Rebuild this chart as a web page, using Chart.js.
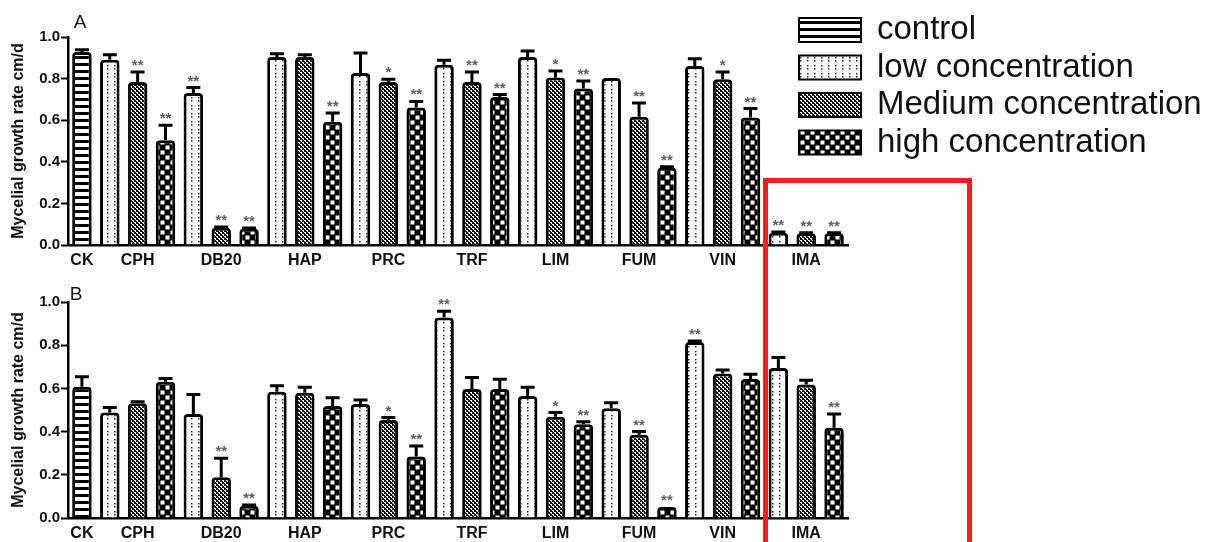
<!DOCTYPE html>
<html>
<head>
<meta charset="utf-8">
<script src="https://cdn.jsdelivr.net/npm/chart.js@4.4.1/dist/chart.umd.min.js"></script>
<style>
  html, body { margin:0; padding:0; background:#fff; }
  body { width:1219px; height:542px; overflow:hidden; position:relative; font-family:"Liberation Sans", Arial, sans-serif; }
  .panel { position:absolute; left:0; width:1219px; }
  #redbox { position:absolute; left:763px; top:178px; width:209px; height:420px; border:5px solid #ff1a1a; box-sizing:border-box; pointer-events:none; }
</style>
</head>
<body>
<div class="panel" style="top:0;height:270px"><canvas id="cA" width="1219" height="270"></canvas></div>
<div class="panel" style="top:270px;height:272px"><canvas id="cB" width="1219" height="272"></canvas></div>
<div id="redbox"></div>
<script>
// ---------- data ----------
const groups = ['CK','CPH','DB20','HAP','PRC','TRF','LIM','FUM','VIN','IMA'];
const seriesNames = ['control','low concentration','Medium concentration','high concentration'];
const yTicks = [0.0, 0.2, 0.4, 0.6, 0.8, 1.0];
const yTitle = 'Mycelial growth rate cm/d';

// Panel A (treatments: CPH, DB20, HAP, PRC, TRF, LIM, FUM, VIN, IMA)
const A_control     = [0.928];
const A_control_err = [0.011];
const A_control_sig = [''];
const A_low      = [0.891, 0.731, 0.904, 0.827, 0.867, 0.904, 0.803, 0.861, 0.059];
const A_low_err  = [0.024, 0.026, 0.016, 0.096, 0.021, 0.029, 0.000, 0.035, 0.004];
const A_low_sig  = ['', '**', '', '', '', '', '', '', '**'];
const A_med      = [0.784, 0.083, 0.904, 0.784, 0.784, 0.805, 0.616, 0.797, 0.056];
const A_med_err  = [0.048, 0.004, 0.011, 0.013, 0.048, 0.032, 0.067, 0.035, 0.003];
const A_med_sig  = ['**', '**', '', '*', '**', '*', '**', '*', '**'];
const A_high     = [0.504, 0.078, 0.592, 0.661, 0.712, 0.752, 0.371, 0.613, 0.056];
const A_high_err = [0.072, 0.004, 0.043, 0.029, 0.011, 0.037, 0.005, 0.043, 0.003];
const A_high_sig = ['**', '**', '**', '**', '**', '**', '**', '**', '**'];

// Panel B
const B_control     = [0.608];
const B_control_err = [0.046];
const B_control_sig = [''];
const B_low      = [0.489, 0.482, 0.585, 0.528, 0.928, 0.565, 0.508, 0.815, 0.695];
const B_low_err  = [0.022, 0.090, 0.027, 0.018, 0.029, 0.040, 0.026, 0.005, 0.048];
const B_low_sig  = ['', '', '', '', '**', '', '', '**', ''];
const B_med      = [0.531, 0.189, 0.580, 0.454, 0.597, 0.469, 0.385, 0.669, 0.618];
const B_med_err  = [0.007, 0.088, 0.025, 0.011, 0.054, 0.019, 0.015, 0.016, 0.020];
const B_med_sig  = ['', '**', '', '*', '', '*', '**', '', ''];
const B_high     = [0.631, 0.057, 0.518, 0.285, 0.597, 0.434, 0.051, 0.643, 0.418];
const B_high_err = [0.015, 0.003, 0.039, 0.048, 0.045, 0.012, 0.000, 0.023, 0.064];
const B_high_sig = ['', '**', '', '**', '', '**', '**', '', '**'];

// ---------- patterns ----------
function mkPattern(kind) {
  const c = document.createElement('canvas');
  const g = c.getContext('2d');
  if (kind === 0) {            // horizontal stripes
    c.width = 4; c.height = 7;
    g.fillStyle = '#fff'; g.fillRect(0,0,4,7);
    g.fillStyle = '#000'; g.fillRect(0,0,4,3);
  } else if (kind === 1) {     // sparse dots
    c.width = 7; c.height = 8;
    g.fillStyle = '#fff'; g.fillRect(0,0,7,8);
    g.fillStyle = '#222';
    g.fillRect(2,1,1.5,1.5); g.fillRect(2,4,1.5,1.5);
  } else if (kind === 2) {     // dense fine dots
    c.width = 4; c.height = 4;
    g.fillStyle = '#111'; g.fillRect(0,0,4,4);
    g.fillStyle = '#fff';
    g.fillRect(0,0,2,1); g.fillRect(2,2,2,1); g.fillRect(1,1,1,1); g.fillRect(3,3,1,1);
  } else {                      // checkerboard
    c.width = 10; c.height = 10;
    g.fillStyle = '#000'; g.fillRect(0,0,10,10);
    g.fillStyle = '#fff';
    g.fillRect(0.5,0.5,4,4); g.fillRect(5.5,5.5,4,4);
  }
  return document.createElement('canvas').getContext('2d').createPattern(c, 'repeat');
}
const patterns = [0,1,2,3].map(mkPattern);

// ---------- build 28-slot layout ----------
function buildLabels() {
  const out = [groups[0]];
  for (let g = 1; g < groups.length; g++) for (let k = 0; k < 3; k++) out.push(groups[g]);
  return out;
}
function slots(control, low, med, high) {
  const n = 1 + 3 * low.length;
  const res = [control, low, med, high].map(() => new Array(n).fill(null));
  res[0][0] = control[0];
  for (let g = 0; g < low.length; g++) {
    res[1][1 + 3*g] = low[g];
    res[2][2 + 3*g] = med[g];
    res[3][3 + 3*g] = high[g];
  }
  return res;
}
const labels = buildLabels();

function makeDatasets(vals, errs, sigs) {
  return seriesNames.map((name, i) => ({
    label: name,
    data: vals[i],
    errors: errs[i],
    sig: sigs[i],
    backgroundColor: patterns[i],
    borderColor: '#000',
    borderWidth: 3,
    borderSkipped: 'bottom',
    borderRadius: {topLeft: 4, topRight: 4, bottomLeft: 0, bottomRight: 0},
    grouped: false,
    barPercentage: 0.7,
    categoryPercentage: 1.0
  }));
}

// ---------- plugins ----------
const errorBars = {
  id: 'errorBars',
  afterDatasetsDraw(chart) {
    const ctx = chart.ctx, ys = chart.scales.y;
    chart.data.datasets.forEach((ds, di) => {
      const meta = chart.getDatasetMeta(di);
      meta.data.forEach((el, i) => {
        const v = ds.data[i];
        if (v === null || v === undefined) return;
        const e = ds.errors[i] || 0;
        const x = el.x;
        const yTop = ys.getPixelForValue(v);
        const yCap = ys.getPixelForValue(v + e);
        ctx.save();
        ctx.strokeStyle = '#000';
        ctx.lineWidth = 3;
        if (e > 0.002) {
          ctx.beginPath();
          ctx.moveTo(x, yTop); ctx.lineTo(x, yCap);
          ctx.moveTo(x - 7, yCap); ctx.lineTo(x + 7, yCap);
          ctx.stroke();
        }
        const s = ds.sig[i];
        if (s) {
          ctx.font = 'bold 15px "Liberation Sans", Arial, sans-serif';
          ctx.fillStyle = '#5d5f6e';
          ctx.textAlign = 'center';
          ctx.textBaseline = 'alphabetic';
          const m = ctx.measureText(s);
          const cy = Math.min(yCap, yTop) - 9;
          ctx.fillText(s, x, cy + (m.actualBoundingBoxAscent - m.actualBoundingBoxDescent) / 2);
        }
        ctx.restore();
      });
    });
  }
};

const panelLetter = {
  id: 'panelLetter',
  afterDraw(chart, args, opts) {
    const ctx = chart.ctx;
    ctx.save();
    ctx.font = '19px "Liberation Sans", Arial, sans-serif';
    ctx.fillStyle = '#111';
    ctx.textAlign = 'center';
    ctx.textBaseline = 'alphabetic';
    ctx.fillText(opts.text, opts.x, opts.y);
    ctx.restore();
  }
};

const customLegend = {
  id: 'customLegend',
  afterDraw(chart, args, opts) {
    if (!opts.show) return;
    const ctx = chart.ctx;
    ctx.save();
    chart.data.datasets.forEach((ds, i) => {
      const y0 = 18 + i * 37.5;
      ctx.fillStyle = ds.backgroundColor;
      ctx.fillRect(799, y0, 62, 24);
      ctx.strokeStyle = '#000';
      ctx.lineWidth = 2;
      ctx.strokeRect(799, y0, 62, 24);
      ctx.fillStyle = '#111';
      ctx.font = '33px "Liberation Sans", Arial, sans-serif';
      ctx.textAlign = 'left';
      ctx.textBaseline = 'middle';
      ctx.fillText(ds.label, 877, y0 + 12);
    });
    ctx.restore();
  }
};

function makeChart(id, datasets, opt) {
  return new Chart(document.getElementById(id), {
    type: 'bar',
    data: { labels: labels, datasets: datasets },
    options: {
      responsive: false,
      animation: false,
      devicePixelRatio: 1,
      layout: { padding: { top: opt.top, right: 371, bottom: 0, left: 0 } },
      plugins: {
        legend: { display: false },
        tooltip: { enabled: false },
        panelLetter: { text: opt.letter, x: opt.lx, y: opt.ly },
        customLegend: { show: opt.legend }
      },
      scales: {
        x: {
          offset: true,
          grid: { display: false, drawTicks: false },
          border: { display: true, color: '#000', width: 2.5 },
          afterFit(s) { s.height = opt.xh; },
          ticks: {
            autoSkip: false, maxRotation: 0, minRotation: 0, padding: 6,
            color: '#111',
            font: { family: '"Liberation Sans", Arial, sans-serif', size: 16, weight: 'bold' },
            callback(val, idx) {
              if (idx === 0) return labels[0];
              return ((idx - 1) % 3 === 1) ? labels[idx] : '';
            }
          }
        },
        y: {
          min: 0, max: 1.0,
          afterFit(s) { s.width = 68; },
          afterBuildTicks(s) { s.ticks = yTicks.map(v => ({ value: v })); },
          grid: { display: true, drawOnChartArea: false, drawTicks: true, tickLength: 7, tickWidth: 2, tickColor: '#000' },
          border: { display: true, color: '#000', width: 2.5 },
          ticks: {
            padding: 1, color: '#111',
            font: { family: '"Liberation Sans", Arial, sans-serif', size: 15, weight: 'bold' },
            callback(v) { return Number(v).toFixed(1); }
          },
          title: {
            display: true, text: yTitle, color: '#111',
            padding: { top: 9, bottom: 0 },
            font: { family: '"Liberation Sans", Arial, sans-serif', size: 16, weight: 'bold' }
          }
        }
      }
    },
    plugins: [errorBars, panelLetter, customLegend]
  });
}

const aVals = slots(A_control, A_low, A_med, A_high);
const aErrs = slots(A_control_err, A_low_err, A_med_err, A_high_err);
const aSigs = slots(A_control_sig, A_low_sig, A_med_sig, A_high_sig);
const bVals = slots(B_control, B_low, B_med, B_high);
const bErrs = slots(B_control_err, B_low_err, B_med_err, B_high_err);
const bSigs = slots(B_control_sig, B_low_sig, B_med_sig, B_high_sig);

makeChart('cA', makeDatasets(aVals, aErrs, aSigs), { top: 37, xh: 25, letter: 'A', lx: 80, ly: 28, legend: true });
makeChart('cB', makeDatasets(bVals, bErrs, bSigs), { top: 32, xh: 24, letter: 'B', lx: 76, ly: 30, legend: false });
</script>
</body>
</html>
